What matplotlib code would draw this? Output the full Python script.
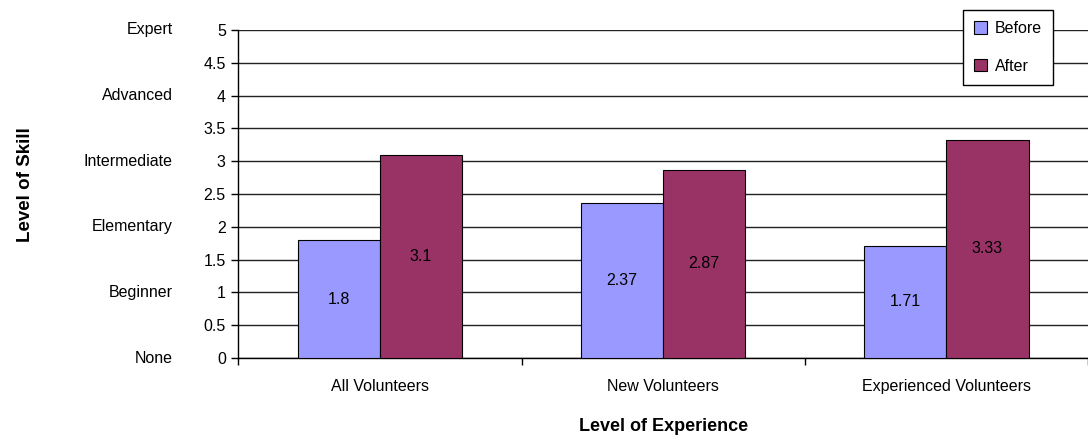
import numpy as np
import matplotlib
matplotlib.use('Agg')
from matplotlib import pyplot as plt
import matplotlib.transforms as mtransforms

plt.rcParams['font.family'] = ['Liberation Sans', 'DejaVu Sans']

# dados
grupos = ['All Volunteers', 'New Volunteers', 'Experienced Volunteers']
antes = [1.8, 2.37, 1.71]
depois = [3.1, 2.87, 3.33]
series = ['Before', 'After']
niveis = ['None', 'Beginner', 'Elementary', 'Intermediate', 'Advanced', 'Expert']
niveis_y = [0, 1, 2, 3, 4, 5]

cor_antes = '#9999FF'
cor_depois = '#993366'

fig = plt.figure(figsize=(10.88, 4.41), dpi=100)
ax = fig.add_axes([0.219, 0.188, 0.781, 0.744])

x = np.arange(len(grupos)) + 0.5
largura = 0.29
b1 = ax.bar(x - largura / 2, antes, largura, color=cor_antes, edgecolor='black',
            linewidth=0.8, label=series[0], zorder=3)
b2 = ax.bar(x + largura / 2, depois, largura, color=cor_depois, edgecolor='black',
            linewidth=0.8, label=series[1], zorder=3)

# rotulos no meio das barras
for barras, valores in [(b1, antes), (b2, depois)]:
    for b, v in zip(barras, valores):
        ax.text(b.get_x() + b.get_width() / 2, v / 2, f'{v:g}', ha='center', va='center',
                fontsize=11.5, zorder=4)

ax.set_xlim(0, 3)
ax.set_ylim(0, 5)
ax.set_yticks(np.arange(0, 5.01, 0.5))
ax.set_yticklabels([f'{v:g}' for v in np.arange(0, 5.01, 0.5)], fontsize=11.5)
ax.yaxis.grid(True, color='#222222', linewidth=1.0, zorder=0)
ax.set_axisbelow(True)

ax.set_xticks([0, 1, 2, 3])
ax.set_xticklabels([])
ax.set_xticks(x, minor=True)
ax.set_xticklabels(grupos, minor=True, fontsize=11.5)
ax.tick_params(axis='x', which='minor', length=0, pad=15)
ax.tick_params(axis='x', which='major', length=5, direction='out', width=1)
ax.tick_params(axis='y', length=5, direction='out', width=1, pad=4)

for lado in ['top', 'right']:
    ax.spines[lado].set_visible(False)
ax.spines['left'].set_linewidth(1)
ax.spines['bottom'].set_linewidth(1)

# niveis de habilidade ao lado dos numeros
trans = mtransforms.blended_transform_factory(ax.transAxes, ax.transData)
for nome, yv in zip(niveis, niveis_y):
    ax.text(-0.077, yv, nome, transform=trans, ha='right', va='center', fontsize=11.5)

ax.set_ylabel('Level of Skill', fontsize=13.5, fontweight='bold')
ax.yaxis.set_label_coords(-0.2506, 0.53)
ax.yaxis.label.set_va('center')
ax.set_xlabel('Level of Experience', fontsize=13, fontweight='bold')
ax.xaxis.set_label_coords(0.5, -0.21)
ax.xaxis.label.set_va('center')

leg = ax.legend(loc='upper right', bbox_to_anchor=(0.959, 1.061), fontsize=11.5,
                frameon=True, fancybox=False, edgecolor='black', framealpha=1,
                handlelength=0.8, handleheight=0.8, handletextpad=0.5,
                borderpad=0.7, labelspacing=1.4, borderaxespad=0)
leg.get_frame().set_linewidth(1)

plt.savefig('out.png', dpi=100)
